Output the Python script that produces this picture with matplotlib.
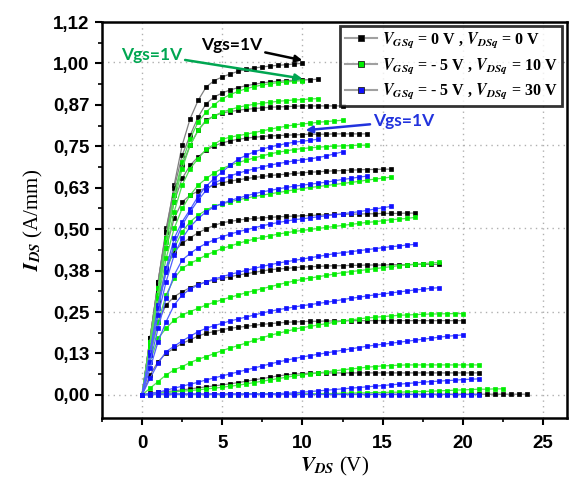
import numpy as np
import matplotlib
matplotlib.use("Agg")
import matplotlib.pyplot as plt
from matplotlib.lines import Line2D

plt.rcParams['mathtext.fontset'] = 'stix'

# Vds sweep step (V); every curve starts at 0 V
vds_step = 0.5

# I_DS (A/mm), one list per Vgs, Vgs = 1 V first
black_curves = [
    [0, .17, .34, .49, .63, .75, .83, .885, .925, .944, .955, .964, .972, .978, .982, .985, .988, .990, .992, .994, .996],
    [0, .17, .34, .50, .62, .72, .78, .835, .875, .895, .907, .916, .923, .929, .933, .937, .940, .942, .944, .945, .946, .947, .948],
    [0, .17, .34, .49, .60, .69, .75, .795, .826, .838, .847, .851, .855, .858, .860, .862, .864, .865, .866, .867, .868, .868, .868, .868, .868, .868],
    [0, .17, .33, .47, .58, .65, .69, .715, .735, .748, .757, .763, .768, .771, .774, .776, .778, .779, .780, .781, .782, .783, .783, .783, .784, .784, .784, .784, .784],
    [0, .16, .31, .44, .53, .58, .60, .612, .622, .630, .637, .642, .646, .650, .653, .656, .659, .661, .663, .665, .667, .669, .670, .672, .673, .674, .675, .676, .677, .677, .678, .678],
    [0, .15, .28, .38, .43, .455, .472, .487, .499, .509, .517, .521, .525, .528, .530, .532, .533, .535, .536, .537, .538, .539, .540, .541, .542, .542, .543, .543, .544, .544, .545, .545, .545, .546, .546],
    [0, .12, .22, .27, .295, .31, .322, .332, .340, .345, .350, .355, .360, .364, .368, .372, .376, .378, .380, .382, .384, .385, .386, .387, .388, .388, .389, .389, .390, .390, .390, .391, .391, .391, .392, .392, .392, .392],
    [0, .06, .10, .125, .14, .155, .165, .177, .185, .190, .196, .200, .203, .206, .209, .212, .214, .216, .218, .219, .220, .221, .221, .222, .222, .222,
     .223, .223, .223, .223, .223, .223, .223, .223, .223, .223, .223, .223, .223, .223, .223],
    [0, .005, .008, .010, .012, .015, .018, .021, .024, .027, .030, .033, .037, .041, .045, .049, .053, .057, .060, .062, .064, .065,
     .066, .066, .066, .066, .066, .066, .066, .066, .066, .066, .066, .066, .066, .066, .066, .066, .066, .066, .066, .066, .066],
    [0, .002, .002, .002, .002, .002, .002, .002, .002, .002, .002, .002, .002, .002, .002, .002, .002, .002, .002, .002, .002, .002, .002, .002, .002,
     .002, .002, .002, .002, .002, .002, .002, .002, .002, .002, .002, .002, .002, .002, .002, .002, .002, .002, .002, .002, .002, .002, .002, .002],
]

green_curves = [
    [0, .16, .32, .47, .60, .70, .77, .82, .85, .872, .890, .902, .912, .920, .926, .931, .935, .938, .940, .942, .944],
    [0, .16, .32, .46, .58, .68, .75, .795, .823, .838, .850, .857, .864, .869, .873, .876, .879, .882, .884, .886, .887, .889, .890],
    [0, .15, .30, .44, .55, .63, .68, .71, .738, .753, .768, .774, .779, .783, .788, .793, .798, .803, .807, .811, .814, .816, .819, .821, .823, .825],
    [0, .15, .29, .41, .50, .56, .60, .63, .65, .667, .680, .690, .698, .705, .712, .718, .724, .729, .733, .737, .740, .742, .744, .746, .747, .748, .749, .750, .750],
    [0, .14, .27, .37, .44, .49, .52, .54, .555, .567, .574, .580, .586, .591, .596, .600, .604, .608, .612, .616, .620, .623, .626, .629, .632, .635, .638, .641, .645, .648, .651, .654],
    [0, .12, .22, .30, .35, .38, .395, .407, .420, .430, .440, .447, .455, .462, .468, .473, .478, .483, .487, .491, .494, .497, .500, .503, .506, .509, .512, .515, .518, .520, .523, .526, .528, .530, .533],
    [0, .10, .17, .20, .225, .24, .25, .26, .27, .278, .286, .293, .300, .307, .313, .319, .325, .331, .337, .342, .347, .351, .355, .359, .363, .367, .370, .373, .376, .379, .382, .385, .388, .390, .392, .394, .396, .398],
    [0, .02, .04, .06, .075, .085, .097, .107, .115, .124, .133, .141, .148, .156, .164, .172, .179, .185, .191, .197, .202, .206, .210, .214, .218, .222, .225, .228, .231, .233, .235, .237, .239, .240, .241, .242, .243, .243, .244, .244, .244],
    [0, .003, .005, .007, .009, .011, .013, .015, .018, .020, .023, .026, .029, .033, .037, .041, .045, .049, .053, .057, .060, .063, .066, .069, .072, .075, .078, .080, .083, .085, .087, .088, .089, .090, .090,
     .090, .090, .090, .090, .090, .090, .090, .090],
    [0, .001, .001, .001, .001, .001, .001, .001, .001, .001, .001, .001, .001, .002, .002, .002, .002, .002, .003, .003, .003, .003, .004, .004, .004,
     .005, .005, .006, .006, .007, .007, .008, .008, .009, .010, .010, .011, .012, .013, .014, .015, .016, .017, .017, .018, .018],
]

blue_curves = [
    [0, .13, .27, .38, .47, .52, .557, .597, .627, .650, .670, .690, .708, .720, .730, .738, .745, .750, .755, .759, .762, .765, .768],
    [0, .13, .26, .37, .45, .51, .55, .585, .615, .636, .648, .658, .666, .673, .679, .685, .690, .695, .699, .703, .706, .709, .713, .718, .724, .730],
    [0, .12, .24, .34, .42, .47, .505, .53, .55, .565, .575, .584, .591, .598, .604, .610, .614, .619, .623, .627, .630, .633, .636, .639, .643, .647, .650, .654, .657],
    [0, .10, .20, .29, .36, .405, .425, .442, .455, .466, .475, .483, .490, .496, .502, .508, .513, .518, .522, .526, .529, .532, .535, .538, .541, .544, .547, .550, .554, .558, .562, .566],
    [0, .08, .16, .22, .27, .30, .318, .330, .340, .348, .355, .362, .368, .374, .380, .386, .391, .396, .400, .404, .408, .412, .416, .420, .424, .427, .430, .433, .436, .439, .442, .445, .447, .450, .452],
    [0, .05, .095, .13, .146, .162, .176, .190, .200, .208, .215, .222, .228, .234, .240, .246, .251, .256, .260, .264, .268, .271, .275, .278, .282, .286, .290, .293, .297, .300, .303, .306, .309, .312, .315, .317, .320, .322],
    [0, .004, .008, .014, .020, .026, .032, .038, .045, .051, .057, .063, .069, .075, .081, .087, .093, .099, .104, .109, .114, .118, .122, .126, .130, .134, .138, .142, .146, .149, .152, .155, .158, .161, .164, .167, .170, .173, .176, .178, .180],
    [0, .002, .003, .003, .003, .003, .003, .003, .003, .003, .003, .003, .003, .003, .003, .003, .003, .004, .005, .006, .008, .010, .012, .014, .016, .018, .020, .022, .024, .026, .028, .030, .032, .034, .036, .038, .040, .041, .043, .044, .046, .047, .048],
    [0, .001, .001, .001, .001, .001, .001, .001, .001, .001, .001, .001, .001, .001, .001, .001, .001, .001, .001, .001, .001, .001,
     .001, .001, .001, .001, .001, .001, .001, .001, .001, .001, .001, .001, .001, .001, .001, .001, .001, .001, .001, .001, .001],
]

legend_labels = [
    r'$\mathbfit{V}_{\mathbfit{GSq}}$ = 0 V , $\mathbfit{V}_{\mathbfit{DSq}}$ = 0 V',
    r'$\mathbfit{V}_{\mathbfit{GSq}}$ = - 5 V , $\mathbfit{V}_{\mathbfit{DSq}}$ = 10 V',
    r'$\mathbfit{V}_{\mathbfit{GSq}}$ = - 5 V , $\mathbfit{V}_{\mathbfit{DSq}}$ = 30 V',
]

y_ticks = np.linspace(0, 1.12, 10)
y_ticklabels = ['0,00', '0,13', '0,25', '0,38', '0,50', '0,63', '0,75', '0,87', '1,00', '1,12']
x_ticks = [0, 5, 10, 15, 20, 25]

# (marker colour, line colour) per family
styles = [('#000000', '#808080'), ('#00ee00', '#55dd55'), ('#1010ff', '#5060ff')]

fig = plt.figure(figsize=(5.73, 4.79), dpi=100)
ax = fig.add_axes([0.178, 0.127, 0.8115, 0.827])

# dotted grid
for gx in x_ticks:
    ax.axvline(gx, color='#b0b0b0', lw=1, ls=(0, (1, 3)), zorder=0)
for gy in [0, 0.25, 0.5, 0.75, 1.0]:
    ax.axhline(gy, color='#b0b0b0', lw=1, ls=(0, (1, 3)), zorder=0)

for curves, (mc, lc) in zip([black_curves, green_curves, blue_curves], styles):
    for ids in curves:
        vds = np.arange(len(ids)) * vds_step
        ax.plot(vds, ids, color=lc, lw=0.9, marker='s', ms=3.3,
                mfc=mc, mec=mc, mew=0.5, zorder=2)

ax.set_xlim(-2.5, 26.5)
ax.set_ylim(-0.07, 1.12)
ax.set_xticks(x_ticks)
ax.set_xticks(np.arange(-2.5, 26, 2.5), minor=True)
ax.set_yticks(y_ticks)
ax.set_yticklabels(y_ticklabels)
ax.set_yticks(y_ticks[:-1] + 1.12 / 18, minor=True)

for lab in ax.get_xticklabels() + ax.get_yticklabels():
    lab.set_fontfamily('Liberation Sans')
    lab.set_fontweight('bold')
    lab.set_fontsize(13.5)

ax.tick_params(which='major', direction='out', length=5, width=1.5, pad=4)
ax.tick_params(axis='x', which='major', pad=7)
ax.tick_params(which='minor', direction='out', length=3, width=1.2)
for sp in ax.spines.values():
    sp.set_linewidth(1.8)

ax.set_xlabel(r'$\mathbfit{V}_{\mathbfit{DS}}$ (V)', family='Liberation Serif', fontsize=15, labelpad=2)
ax.set_ylabel(r'$\mathbfit{I}_{\mathbfit{DS}}$ (A/mm)', family='Liberation Serif', fontsize=15, labelpad=6)

handles = [Line2D([], [], color='#a0a0a0', lw=1.5, marker='s', ms=5, mfc=mc, mec='#202020', mew=0.6)
           for mc, _ in styles]
leg = ax.legend(handles, legend_labels, loc='upper right', bbox_to_anchor=(0.99, 0.99),
                prop={'family': 'Liberation Serif', 'weight': 'bold', 'size': 11.5},
                frameon=True, fancybox=False, borderpad=0.3, labelspacing=0.4,
                handlelength=2.0, handletextpad=0.3, borderaxespad=0)
leg.get_frame().set_edgecolor('black')
leg.get_frame().set_linewidth(2)
leg.set_zorder(5)

ann_font = dict(family='Lato', weight='bold', fontsize=12.5)
ax.annotate('Vgs=1V', xy=(10, 1.005), xytext=(5.6, 1.05), color='black', ha='center', va='center',
            arrowprops=dict(arrowstyle='-|>', color='black', lw=1.8, mutation_scale=10,
                            shrinkA=0, shrinkB=0), **ann_font)
ax.annotate('Vgs=1V', xy=(10, 0.95), xytext=(0.6, 1.022), color='#00a651', ha='center', va='center',
            arrowprops=dict(arrowstyle='-|>', color='#00a651', lw=1.8, mutation_scale=10,
                            shrinkA=0, shrinkB=0), **ann_font)
ax.annotate('Vgs=1V', xy=(10.2, 0.795), xytext=(16.3, 0.822), color='#2233dd', ha='center', va='center',
            arrowprops=dict(arrowstyle='-|>', color='#2233dd', lw=1.8, mutation_scale=10,
                            shrinkA=0, shrinkB=0), **ann_font)

fig.savefig('out.png', dpi=100)
